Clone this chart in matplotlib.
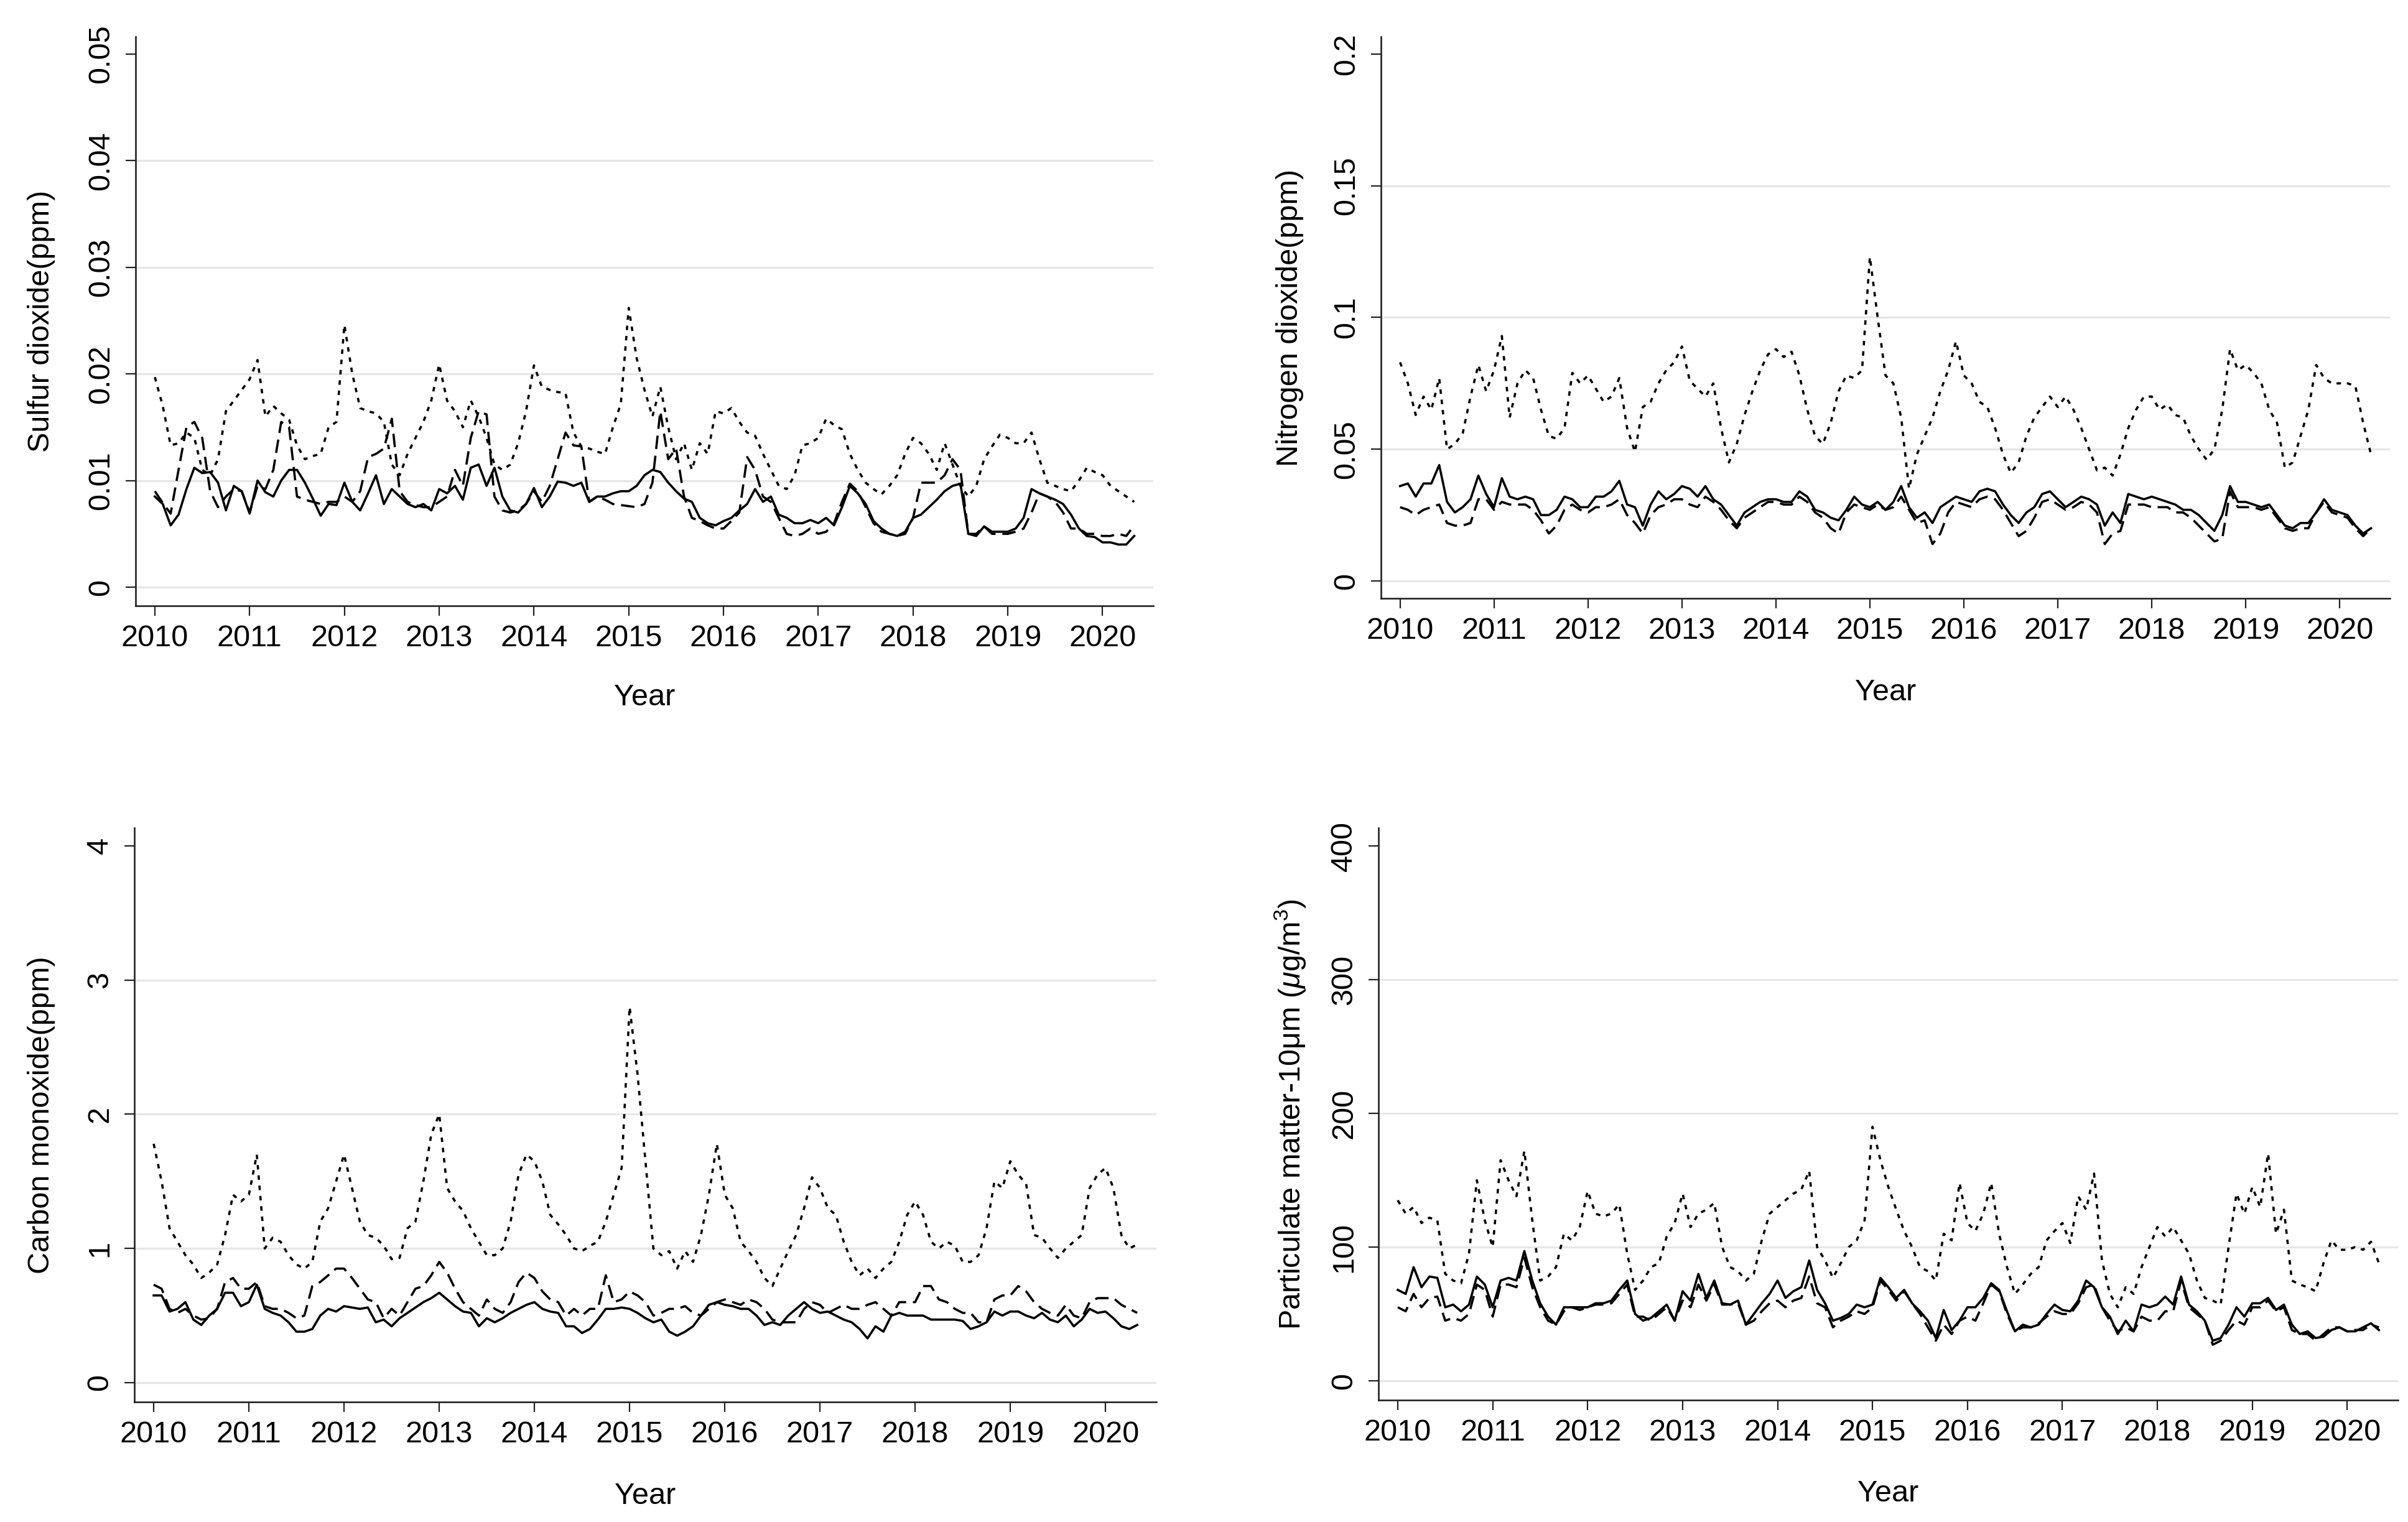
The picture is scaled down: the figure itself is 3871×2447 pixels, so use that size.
import numpy as np
import matplotlib
matplotlib.use("Agg")
import matplotlib.pyplot as plt

plt.rcParams['font.family'] = ['Liberation Sans', 'DejaVu Sans']
plt.rcParams['mathtext.fontset'] = 'custom'
plt.rcParams['mathtext.rm'] = 'Liberation Sans'
plt.rcParams['mathtext.it'] = 'Liberation Sans:italic'

# ---------------- data (monthly, Jan 2010 - May 2020) ----------------
so2_solid = [0.0085, 0.0078, 0.0058, 0.0068, 0.0092, 0.0112, 0.0107, 0.0108, 0.0098, 0.0072, 0.0095, 0.0090,
             0.0069, 0.0100, 0.0089, 0.0085, 0.0100, 0.0110, 0.0110, 0.0098, 0.0083, 0.0067, 0.0078, 0.0077,
             0.0098, 0.0080, 0.0072, 0.0088, 0.0105, 0.0078, 0.0092, 0.0085, 0.0078, 0.0075, 0.0078, 0.0072,
             0.0092, 0.0088, 0.0095, 0.0082, 0.0112, 0.0115, 0.0095, 0.0112, 0.0085, 0.0072, 0.0070, 0.0078,
             0.0093, 0.0075, 0.0085, 0.0099, 0.0098, 0.0095, 0.0098, 0.0080, 0.0085, 0.0085, 0.0088, 0.0090,
             0.0090, 0.0095, 0.0105, 0.0110, 0.0108, 0.0098, 0.0090, 0.0083, 0.0080, 0.0065, 0.0060, 0.0058,
             0.0062, 0.0065, 0.0072, 0.0078, 0.0092, 0.0080, 0.0085, 0.0068, 0.0065, 0.0060, 0.0060, 0.0063,
             0.0060, 0.0065, 0.0058, 0.0075, 0.0095, 0.0088, 0.0078, 0.0062, 0.0055, 0.0050, 0.0048, 0.0052,
             0.0065, 0.0068, 0.0075, 0.0082, 0.0090, 0.0095, 0.0097, 0.0050, 0.0048, 0.0057, 0.0052, 0.0052,
             0.0052, 0.0055, 0.0065, 0.0092, 0.0088, 0.0085, 0.0082, 0.0078, 0.0068, 0.0055, 0.0048, 0.0047,
             0.0042, 0.0042, 0.0040, 0.0040, 0.0048]
so2_dash = [0.0090, 0.0079, 0.0069, 0.0110, 0.0150, 0.0155, 0.0140, 0.0090, 0.0075, 0.0085, 0.0092, 0.0090,
            0.0070, 0.0095, 0.0092, 0.0110, 0.0155, 0.0150, 0.0085, 0.0082, 0.0080, 0.0078, 0.0080, 0.0080,
            0.0085, 0.0080, 0.0090, 0.0122, 0.0125, 0.0130, 0.0158, 0.0090, 0.0080, 0.0077, 0.0075, 0.0075,
            0.0080, 0.0085, 0.0110, 0.0095, 0.0140, 0.0165, 0.0162, 0.0085, 0.0072, 0.0070, 0.0072, 0.0078,
            0.0090, 0.0080, 0.0095, 0.0120, 0.0145, 0.0133, 0.0132, 0.0080, 0.0085, 0.0082, 0.0078, 0.0077,
            0.0076, 0.0075, 0.0078, 0.0098, 0.0165, 0.0120, 0.0130, 0.0085, 0.0065, 0.0062, 0.0058, 0.0055,
            0.0055, 0.0062, 0.0070, 0.0122, 0.0110, 0.0085, 0.0080, 0.0065, 0.0050, 0.0048, 0.0050, 0.0055,
            0.0050, 0.0052, 0.0060, 0.0080, 0.0097, 0.0090, 0.0075, 0.0060, 0.0052, 0.0050, 0.0048, 0.0050,
            0.0065, 0.0098, 0.0098, 0.0098, 0.0105, 0.0120, 0.0110, 0.0050, 0.0050, 0.0057, 0.0050, 0.0050,
            0.0050, 0.0052, 0.0055, 0.0070, 0.0088, 0.0085, 0.0080, 0.0070, 0.0055, 0.0055, 0.0050, 0.0050,
            0.0048, 0.0048, 0.0050, 0.0048, 0.0058]
so2_dot = [0.0197, 0.0170, 0.0133, 0.0135, 0.0145, 0.0140, 0.0110, 0.0105, 0.0120, 0.0165, 0.0175, 0.0185,
           0.0195, 0.0213, 0.0160, 0.0170, 0.0163, 0.0157, 0.0133, 0.0120, 0.0123, 0.0125, 0.0150, 0.0155,
           0.0246, 0.0200, 0.0168, 0.0165, 0.0163, 0.0155, 0.0115, 0.0105, 0.0125, 0.0140, 0.0155, 0.0175,
           0.0209, 0.0175, 0.0165, 0.0150, 0.0175, 0.0160, 0.0140, 0.0115, 0.0110, 0.0115, 0.0135, 0.0165,
           0.0208, 0.0188, 0.0185, 0.0183, 0.0182, 0.0145, 0.0132, 0.0130, 0.0127, 0.0125, 0.0150, 0.0172,
           0.0262, 0.0215, 0.0185, 0.0160, 0.0188, 0.0150, 0.0120, 0.0135, 0.0110, 0.0135, 0.0125, 0.0165,
           0.0163, 0.0168, 0.0155, 0.0145, 0.0142, 0.0125, 0.0110, 0.0095, 0.0092, 0.0105, 0.0133, 0.0135,
           0.0140, 0.0158, 0.0152, 0.0148, 0.0125, 0.0110, 0.0098, 0.0092, 0.0087, 0.0095, 0.0105, 0.0125,
           0.0140, 0.0135, 0.0125, 0.0110, 0.0135, 0.0115, 0.0095, 0.0085, 0.0095, 0.0120, 0.0132, 0.0143,
           0.0140, 0.0135, 0.0135, 0.0145, 0.0120, 0.0098, 0.0095, 0.0092, 0.0090, 0.0100, 0.0112, 0.0108,
           0.0105, 0.0095, 0.0090, 0.0085, 0.0080]

no2_solid = [0.036, 0.037, 0.032, 0.037, 0.037, 0.044, 0.030, 0.026, 0.028, 0.031, 0.040, 0.033,
             0.028, 0.039, 0.032, 0.031, 0.032, 0.031, 0.025, 0.025, 0.027, 0.032, 0.031, 0.028,
             0.028, 0.032, 0.032, 0.034, 0.038, 0.029, 0.028, 0.021, 0.029, 0.034, 0.031, 0.033,
             0.036, 0.035, 0.032, 0.036, 0.031, 0.029, 0.025, 0.021, 0.026, 0.028, 0.030, 0.031,
             0.031, 0.030, 0.030, 0.034, 0.032, 0.027, 0.026, 0.024, 0.023, 0.027, 0.032, 0.029,
             0.028, 0.030, 0.027, 0.030, 0.036, 0.028, 0.024, 0.026, 0.022, 0.028, 0.030, 0.032,
             0.031, 0.030, 0.034, 0.035, 0.034, 0.029, 0.025, 0.022, 0.026, 0.028, 0.033, 0.034,
             0.031, 0.028, 0.030, 0.032, 0.031, 0.029, 0.021, 0.026, 0.022, 0.033, 0.032, 0.031,
             0.032, 0.031, 0.030, 0.029, 0.027, 0.027, 0.025, 0.022, 0.019, 0.025, 0.036, 0.030,
             0.030, 0.029, 0.028, 0.029, 0.025, 0.021, 0.020, 0.022, 0.022, 0.026, 0.031, 0.027,
             0.026, 0.025, 0.021, 0.018, 0.020]
no2_dash = [0.028, 0.027, 0.025, 0.027, 0.028, 0.029, 0.022, 0.021, 0.021, 0.022, 0.031, 0.031,
            0.027, 0.030, 0.029, 0.029, 0.029, 0.027, 0.023, 0.018, 0.021, 0.027, 0.029, 0.027,
            0.026, 0.028, 0.028, 0.029, 0.031, 0.025, 0.022, 0.018, 0.025, 0.028, 0.029, 0.031,
            0.031, 0.029, 0.028, 0.032, 0.030, 0.027, 0.023, 0.020, 0.024, 0.026, 0.028, 0.030,
            0.030, 0.029, 0.029, 0.032, 0.030, 0.026, 0.024, 0.020, 0.018, 0.026, 0.029, 0.028,
            0.027, 0.029, 0.027, 0.028, 0.032, 0.027, 0.022, 0.023, 0.014, 0.018, 0.026, 0.030,
            0.029, 0.028, 0.031, 0.032, 0.031, 0.027, 0.022, 0.017, 0.019, 0.024, 0.030, 0.031,
            0.029, 0.027, 0.028, 0.030, 0.029, 0.026, 0.014, 0.018, 0.019, 0.029, 0.029, 0.029,
            0.028, 0.028, 0.028, 0.026, 0.026, 0.024, 0.021, 0.018, 0.015, 0.016, 0.034, 0.028,
            0.028, 0.028, 0.027, 0.028, 0.024, 0.020, 0.019, 0.020, 0.020, 0.026, 0.030, 0.026,
            0.025, 0.024, 0.020, 0.017, 0.020]
no2_dot = [0.083, 0.075, 0.063, 0.070, 0.065, 0.077, 0.050, 0.052, 0.056, 0.070, 0.082, 0.072,
           0.080, 0.093, 0.062, 0.075, 0.080, 0.077, 0.065, 0.055, 0.054, 0.058, 0.079, 0.075,
           0.078, 0.073, 0.068, 0.070, 0.077, 0.058, 0.049, 0.066, 0.068, 0.075, 0.080, 0.083,
           0.089, 0.076, 0.073, 0.070, 0.075, 0.058, 0.045, 0.052, 0.063, 0.072, 0.080, 0.086,
           0.088, 0.085, 0.087, 0.078, 0.065, 0.055, 0.052, 0.060, 0.072, 0.078, 0.077, 0.080,
           0.123, 0.100, 0.078, 0.075, 0.062, 0.035, 0.048, 0.055, 0.062, 0.072, 0.080, 0.091,
           0.078, 0.075, 0.068, 0.066, 0.058, 0.048, 0.041, 0.045, 0.055, 0.062, 0.066, 0.070,
           0.066, 0.070, 0.065, 0.058, 0.050, 0.042, 0.043, 0.040, 0.048, 0.058, 0.065, 0.070,
           0.070, 0.065, 0.067, 0.063, 0.062, 0.055, 0.050, 0.046, 0.050, 0.065, 0.088, 0.080,
           0.082, 0.079, 0.075, 0.065, 0.060, 0.043, 0.045, 0.055, 0.065, 0.082, 0.077, 0.075,
           0.075, 0.075, 0.074, 0.060, 0.048]

co_solid = [0.65, 0.65, 0.53, 0.55, 0.60, 0.47, 0.43, 0.50, 0.55, 0.67, 0.67, 0.57,
            0.60, 0.73, 0.55, 0.52, 0.50, 0.45, 0.38, 0.38, 0.40, 0.50, 0.55, 0.53,
            0.57, 0.56, 0.55, 0.56, 0.45, 0.47, 0.42, 0.48, 0.52, 0.56, 0.60, 0.63,
            0.67, 0.62, 0.57, 0.53, 0.52, 0.42, 0.48, 0.45, 0.48, 0.52, 0.55, 0.58,
            0.60, 0.55, 0.53, 0.52, 0.42, 0.42, 0.37, 0.40, 0.47, 0.55, 0.55, 0.56,
            0.55, 0.52, 0.48, 0.45, 0.47, 0.38, 0.35, 0.38, 0.42, 0.50, 0.58, 0.60,
            0.58, 0.57, 0.55, 0.55, 0.50, 0.43, 0.45, 0.43, 0.50, 0.55, 0.60, 0.55,
            0.52, 0.53, 0.50, 0.47, 0.45, 0.40, 0.33, 0.42, 0.38, 0.50, 0.52, 0.50,
            0.50, 0.50, 0.47, 0.47, 0.47, 0.47, 0.46, 0.40, 0.42, 0.45, 0.53, 0.50,
            0.53, 0.53, 0.50, 0.48, 0.52, 0.47, 0.45, 0.50, 0.42, 0.47, 0.55, 0.52,
            0.53, 0.48, 0.42, 0.40, 0.43]
co_dash = [0.73, 0.70, 0.55, 0.52, 0.55, 0.50, 0.47, 0.48, 0.55, 0.75, 0.78, 0.70,
           0.70, 0.75, 0.57, 0.55, 0.55, 0.52, 0.48, 0.50, 0.72, 0.75, 0.80, 0.85,
           0.85, 0.78, 0.70, 0.62, 0.60, 0.48, 0.55, 0.50, 0.60, 0.70, 0.72, 0.80,
           0.90, 0.82, 0.70, 0.60, 0.55, 0.50, 0.62, 0.55, 0.52, 0.60, 0.75, 0.82,
           0.78, 0.68, 0.62, 0.60, 0.50, 0.55, 0.50, 0.55, 0.55, 0.80, 0.60, 0.62,
           0.68, 0.65, 0.60, 0.50, 0.52, 0.55, 0.55, 0.57, 0.52, 0.50, 0.55, 0.60,
           0.62, 0.60, 0.58, 0.62, 0.60, 0.55, 0.47, 0.45, 0.45, 0.45, 0.55, 0.60,
           0.58, 0.52, 0.55, 0.58, 0.55, 0.55, 0.58, 0.60, 0.55, 0.50, 0.60, 0.60,
           0.60, 0.72, 0.72, 0.62, 0.60, 0.55, 0.52, 0.52, 0.45, 0.45, 0.62, 0.65,
           0.65, 0.72, 0.68, 0.60, 0.55, 0.52, 0.50, 0.58, 0.50, 0.48, 0.60, 0.63,
           0.63, 0.63, 0.58, 0.55, 0.52]
co_dot = [1.78, 1.50, 1.15, 1.05, 0.95, 0.88, 0.78, 0.82, 0.88, 1.10, 1.40, 1.35,
          1.40, 1.70, 1.00, 1.08, 1.05, 0.95, 0.88, 0.85, 0.90, 1.20, 1.30, 1.50,
          1.70, 1.45, 1.20, 1.10, 1.08, 1.02, 0.92, 0.93, 1.15, 1.20, 1.50, 1.85,
          2.00, 1.45, 1.35, 1.28, 1.15, 1.05, 0.95, 0.95, 1.00, 1.20, 1.55, 1.70,
          1.65, 1.50, 1.25, 1.18, 1.10, 1.00, 0.98, 1.02, 1.05, 1.20, 1.40, 1.60,
          2.80, 2.30, 1.65, 1.00, 0.95, 0.98, 0.85, 0.98, 0.90, 1.10, 1.40, 1.78,
          1.40, 1.30, 1.05, 0.98, 0.90, 0.78, 0.72, 0.85, 0.98, 1.10, 1.30, 1.53,
          1.45, 1.30, 1.25, 1.05, 0.90, 0.80, 0.85, 0.78, 0.85, 0.90, 1.05, 1.25,
          1.35, 1.25, 1.05, 1.00, 1.05, 1.02, 0.90, 0.90, 0.95, 1.15, 1.50, 1.45,
          1.65, 1.55, 1.48, 1.10, 1.08, 1.00, 0.93, 1.00, 1.05, 1.10, 1.45, 1.55,
          1.60, 1.45, 1.10, 1.00, 1.03]

pm_solid = [68, 65, 85, 70, 78, 77, 55, 57, 52, 57, 78, 72,
            55, 75, 77, 75, 97, 75, 58, 48, 42, 55, 55, 55,
            55, 58, 58, 60, 68, 75, 50, 45, 47, 52, 57, 45,
            67, 60, 80, 62, 75, 58, 57, 60, 42, 50, 58, 65,
            75, 62, 67, 70, 90, 68, 58, 45, 47, 50, 57, 55,
            57, 77, 70, 62, 68, 58, 52, 45, 32, 53, 38, 45,
            55, 55, 62, 73, 68, 52, 37, 42, 40, 42, 50, 57,
            53, 52, 60, 75, 70, 55, 48, 35, 45, 37, 57, 55,
            57, 63, 57, 78, 57, 52, 45, 30, 32, 42, 55, 48,
            58, 58, 62, 53, 57, 42, 35, 37, 32, 33, 38, 40,
            37, 37, 40, 43, 38]
pm_dash = [55, 52, 65, 55, 62, 63, 45, 47, 45, 50, 72, 68,
           48, 72, 72, 70, 92, 70, 55, 45, 42, 52, 55, 53,
           55, 57, 57, 58, 65, 72, 48, 48, 45, 50, 55, 45,
           60, 55, 72, 60, 72, 57, 57, 58, 42, 45, 52, 58,
           60, 55, 60, 62, 78, 58, 55, 40, 45, 48, 52, 50,
           55, 75, 68, 60, 67, 58, 50, 40, 30, 42, 35, 45,
           48, 45, 58, 72, 67, 50, 37, 40, 40, 43, 48, 52,
           50, 50, 58, 70, 72, 55, 45, 37, 40, 37, 48, 45,
           45, 52, 52, 75, 55, 50, 45, 27, 30, 38, 45, 42,
           55, 55, 60, 52, 55, 38, 35, 35, 30, 35, 40, 40,
           37, 38, 38, 42, 40]
pm_dot = [135, 125, 130, 118, 122, 120, 80, 75, 73, 95, 150, 120,
          100, 165, 150, 138, 172, 120, 75, 78, 85, 110, 105, 115,
          142, 125, 123, 125, 132, 95, 68, 75, 85, 88, 108, 118,
          140, 115, 125, 128, 133, 100, 85, 82, 75, 80, 105, 125,
          130, 135, 140, 143, 157, 100, 90, 77, 88, 100, 105, 120,
          190, 165, 145, 128, 112, 100, 85, 82, 75, 110, 105, 148,
          118, 112, 125, 148, 110, 85, 65, 72, 80, 85, 105, 112,
          118, 103, 138, 128, 155, 90, 65, 55, 70, 65, 85, 100,
          115, 108, 115, 105, 95, 75, 62, 60, 57, 100, 140, 125,
          145, 130, 170, 110, 128, 75, 72, 70, 67, 88, 105, 98,
          98, 100, 98, 104, 88]

year_ticks = list(range(2010, 2021))
so2_ticks = [0, 0.01, 0.02, 0.03, 0.04, 0.05]
so2_labels = ["0", "0.01", "0.02", "0.03", "0.04", "0.05"]
no2_ticks = [0, 0.05, 0.1, 0.15, 0.2]
no2_labels = ["0", "0.05", "0.1", "0.15", "0.2"]
co_ticks = [0, 1, 2, 3, 4]
co_labels = ["0", "1", "2", "3", "4"]
pm_ticks = [0, 100, 200, 300, 400]
pm_labels = ["0", "100", "200", "300", "400"]

t = 2010 + np.arange(len(so2_solid)) / 12.0

W, H = 3871, 2447
fig = plt.figure(figsize=(W / 100, H / 100), dpi=100)
fig.patch.set_facecolor('white')

panels = [
    # (left, right, top, bottom) px, ylim, ticks, labels, ylabel, series, ylabel_x, xlabel_y
    ((218, 1854, 59, 974), (-0.00175, 0.05163), so2_ticks, so2_labels,
     "Sulfur dioxide(ppm)", (so2_solid, so2_dash, so2_dot), 67, 1122),
    ((2220, 3842, 59, 962), (-0.00661, 0.2066), no2_ticks, no2_labels,
     "Nitrogen dioxide(ppm)", (no2_solid, no2_dash, no2_dot), 2074, 1113),
    ((216, 1859, 1331, 2254), (-0.1437, 4.134), co_ticks, co_labels,
     "Carbon monoxide(ppm)", (co_solid, co_dash, co_dot), 67, 2406),
    ((2216, 3855, 1331, 2251), (-14.4, 413.5), pm_ticks, pm_labels,
     r"Particulate matter-10μm ($\mu$g/m$^{3}$)", (pm_solid, pm_dash, pm_dot), 2074, 2402),
]

lw = 2.6
for (l, r, tp, b), ylim, ticks, labels, ylabel, series, ylx, xly in panels:
    ax = fig.add_axes([l / W, 1 - b / H, (r - l) / W, (b - tp) / H])
    for yv in ticks[:-1]:
        ax.axhline(yv, color='#E6E6E6', lw=2.3, zorder=0)
    s_solid, s_dash, s_dot = series
    ax.plot(t, s_solid, color='black', lw=lw, linestyle='-', zorder=3)
    ax.plot(t, s_dash, color='black', lw=lw, linestyle=(0, (6, 3)), zorder=3)
    ax.plot(t, s_dot, color='black', lw=lw, linestyle=(0, (2, 2.6)), zorder=3)
    ax.set_xlim(2009.797, 2020.535)
    ax.set_ylim(*ylim)
    ax.set_xticks(year_ticks)
    ax.set_xticklabels([str(y) for y in year_ticks])
    ax.set_yticks(ticks)
    ax.set_yticklabels(labels)
    for lab in ax.get_yticklabels():
        lab.set_rotation(90)
        lab.set_va('center')
        lab.set_ha('right')
    ax.spines['top'].set_visible(False)
    ax.spines['right'].set_visible(False)
    for sp in ('left', 'bottom'):
        ax.spines[sp].set_linewidth(1.9)
        ax.spines[sp].set_color('#222222')
    ax.tick_params(axis='both', length=11.5, width=1.6, color='#222222',
                   labelsize=35, direction='out')
    ax.tick_params(axis='x', pad=10)
    ax.tick_params(axis='y', pad=12)
    ax.set_xlabel("Year", fontsize=35)
    ax.set_ylabel(ylabel, fontsize=35)
    ax.yaxis.label.set_va('center')
    ax.xaxis.label.set_va('center')
    ax.yaxis.set_label_coords((ylx - l) / (r - l), 0.5)
    ax.xaxis.set_label_coords(0.5, -(xly - b) / (b - tp))
    ax.set_facecolor('white')

fig.savefig("out.png", dpi=100, facecolor='white')
